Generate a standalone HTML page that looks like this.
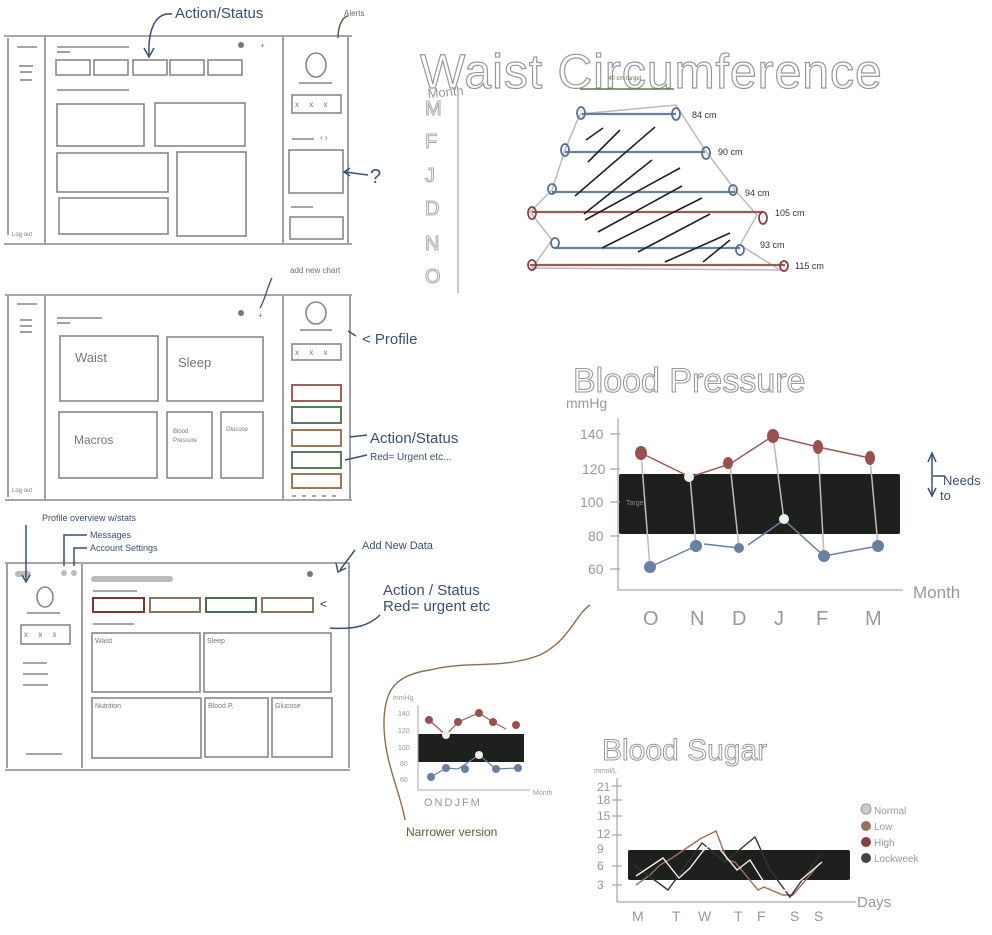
<!DOCTYPE html>
<html><head><meta charset="utf-8"><style>
html,body{margin:0;padding:0;background:#fff}
svg{display:block}
text{font-family:"Liberation Sans",sans-serif}
</style></head><body>
<svg width="992" height="935" viewBox="0 0 992 935" xmlns="http://www.w3.org/2000/svg">
<g fill="none" stroke="#888" stroke-width="1.6">
<line x1="4" y1="36" x2="352" y2="36"/><line x1="4" y1="244" x2="352" y2="244"/>
<line x1="8" y1="38" x2="8" y2="235"/><line x1="45" y1="37" x2="45" y2="243"/>
<line x1="283" y1="37" x2="283" y2="243"/><line x1="348" y1="37" x2="348" y2="243"/>
<line x1="17" y1="47" x2="37" y2="47"/><line x1="19" y1="66" x2="33" y2="66"/><line x1="20" y1="72" x2="32" y2="72"/><line x1="20" y1="80" x2="32" y2="80"/>
<line x1="57" y1="47" x2="129" y2="47"/><line x1="57" y1="52" x2="70" y2="52"/>
<rect x="56" y="60" width="34" height="15"/><rect x="94" y="60" width="34" height="15"/><rect x="133" y="60" width="34" height="15"/><rect x="170" y="60" width="34" height="15"/><rect x="208" y="60" width="34" height="15"/>
<line x1="57" y1="90" x2="129" y2="90"/>
<rect x="57" y="104" width="87" height="42"/><rect x="155" y="103" width="90" height="43"/>
<rect x="57" y="153" width="111" height="39"/><rect x="177" y="152" width="69" height="84"/><rect x="59" y="198" width="109" height="36"/>
<ellipse cx="316" cy="65" rx="10" ry="12"/><line x1="299" y1="83" x2="332" y2="83"/>
<rect x="292" y="95" width="49" height="18"/>
<line x1="292" y1="139" x2="314" y2="139"/>
<rect x="289" y="150" width="54" height="43"/>
<line x1="291" y1="207" x2="313" y2="207"/>
<rect x="290" y="217" width="53" height="22"/>
<line x1="5" y1="295" x2="352" y2="295"/><line x1="5" y1="500" x2="352" y2="500"/>
<line x1="8" y1="296" x2="8" y2="497"/><line x1="45" y1="296" x2="45" y2="499"/>
<line x1="283" y1="296" x2="283" y2="499"/><line x1="350" y1="296" x2="350" y2="499"/>
<line x1="17" y1="304" x2="37" y2="304"/><line x1="20" y1="320" x2="32" y2="320"/><line x1="20" y1="326" x2="32" y2="326"/><line x1="20" y1="332" x2="32" y2="332"/>
<line x1="57" y1="318" x2="102" y2="318"/><line x1="57" y1="323" x2="70" y2="323"/>
<rect x="60" y="336" width="98" height="65"/><rect x="167" y="337" width="96" height="64"/>
<rect x="59" y="412" width="98" height="66"/><rect x="167" y="412" width="45" height="66"/><rect x="221" y="412" width="42" height="66"/>
<ellipse cx="316" cy="313" rx="10" ry="11"/><line x1="300" y1="330" x2="332" y2="330"/>
<rect x="292" y="344" width="49" height="16"/>
<line x1="292" y1="496" x2="340" y2="496" stroke-dasharray="4 6"/>
<line x1="5" y1="563" x2="350" y2="563"/><line x1="5" y1="770" x2="350" y2="770"/>
<line x1="7" y1="564" x2="7" y2="768"/><line x1="82" y1="564" x2="82" y2="768"/><line x1="349" y1="564" x2="349" y2="768"/>
<ellipse cx="45" cy="597" rx="8" ry="10"/><line x1="27" y1="613" x2="60" y2="613"/>
<rect x="21" y="625" width="49" height="19"/>
<line x1="23" y1="663" x2="47" y2="663"/><line x1="23" y1="674" x2="48" y2="674"/><line x1="23" y1="685" x2="48" y2="685"/><line x1="26" y1="754" x2="62" y2="754"/>
<line x1="93" y1="591" x2="137" y2="591"/><line x1="93" y1="624" x2="134" y2="624"/>
<rect x="92" y="633" width="108" height="59"/><rect x="204" y="633" width="127" height="59"/>
<rect x="92" y="698" width="109" height="60"/><rect x="205" y="698" width="63" height="59"/><rect x="272" y="698" width="60" height="59"/>
</g>
<g stroke-width="2" fill="none">
<rect x="292" y="385" width="49" height="16" stroke="#9b6060"/><rect x="292" y="407" width="49" height="16" stroke="#5d7a60"/><rect x="292" y="430" width="49" height="16" stroke="#9a7a5a"/><rect x="292" y="452" width="49" height="16" stroke="#5d7a60"/><rect x="292" y="474" width="49" height="14" stroke="#9a7a5a"/>
<rect x="93" y="598" width="51" height="14" stroke="#7a3838"/><rect x="150" y="598" width="50" height="14" stroke="#8a7560"/><rect x="206" y="598" width="50" height="14" stroke="#4f6a50"/><rect x="262" y="598" width="51" height="14" stroke="#8a7560"/>
</g>
<g fill="#bbb" stroke="none">
<rect x="15" y="571" width="16" height="6" rx="3"/><circle cx="64" cy="573" r="3"/><circle cx="74" cy="573" r="3"/>
<rect x="91" y="576" width="82" height="6" rx="3"/>
<circle cx="241" cy="45" r="3" fill="#777"/><circle cx="241" cy="313" r="3" fill="#777"/><circle cx="310" cy="574" r="3" fill="#777"/>
</g>
<g font-size="8" fill="#777">
<text x="260" y="48">+</text><text x="258" y="318">+</text>
<text x="295" y="107" letter-spacing="4">x x x</text><text x="295" y="355" letter-spacing="4">x x x</text><text x="24" y="637" letter-spacing="4">x x x</text>
<text x="320" y="140">‹ ›</text>
<text x="12" y="236" font-size="6">Log out</text><text x="12" y="492" font-size="6">Log out</text>
<text x="95" y="643" font-size="7">Waist</text><text x="207" y="643" font-size="7">Sleep</text><text x="95" y="708" font-size="7">Nutrition</text><text x="208" y="708" font-size="7">Blood P.</text><text x="275" y="708" font-size="7">Glucose</text>
<text x="75" y="362" font-size="13">Waist</text><text x="178" y="367" font-size="13">Sleep</text><text x="74" y="444" font-size="12">Macros</text><text x="173" y="433" font-size="6">Blood</text><text x="173" y="442" font-size="6">Pressure</text><text x="226" y="431" font-size="6">Glucose</text>
<text x="320" y="608" font-size="12" fill="#334">&lt;</text>
</g>
<g fill="#3d4f6e" font-family="Liberation Sans" font-size="15">
<text x="175" y="18">Action/Status</text>
<text x="362" y="344">&lt; Profile</text>
<text x="370" y="443">Action/Status</text>
<text x="370" y="460" font-size="10">Red= Urgent etc...</text>
<text x="383" y="595">Action / Status</text>
<text x="383" y="611">Red= urgent etc</text>
<text x="362" y="549" font-size="11">Add New Data</text>
<text x="42" y="521" font-size="9">Profile overview w/stats</text>
<text x="90" y="538" font-size="9">Messages</text>
<text x="90" y="551" font-size="9">Account Settings</text>
<text x="370" y="183" font-size="20">?</text>
<text x="943" y="485" font-size="13">Needs</text><text x="940" y="500" font-size="13">to</text>
</g>
<g stroke="#3d4f6e" stroke-width="1.5" fill="none">
<path d="M172 14 C155 12 148 30 149 55"/><path d="M144 48 L149 57 L154 48"/>
<path d="M368 175 L345 172"/><path d="M350 168 L344 172 L350 176"/>
<path d="M356 336 L348 331"/><path d="M367 435 L350 437"/><path d="M367 455 L345 460"/>
<path d="M26 525 L26 580"/><path d="M22 575 L26 582 L30 575"/>
<path d="M87 535 L64 535 L64 566"/><path d="M87 548 L74 548 L74 566"/>
<path d="M355 550 L340 570"/><path d="M336 563 L338 572 L346 568"/>
<path d="M380 615 C370 625 355 630 330 628"/>
<path d="M932 455 L932 495"/><path d="M928 462 L932 453 L936 462"/><path d="M928 488 L932 496 L936 488"/><path d="M933 476 L945 476"/>
</g>
<g fill="#7a6a5a" font-size="8"><text x="344" y="16">Alerts</text><text x="290" y="273">add new chart</text></g>
<path d="M338 38 C338 22 345 16 348 16" stroke="#6a5a40" fill="none" stroke-width="1.5"/>
<path d="M260 308 C265 300 268 285 272 278" stroke="#3d4f6e" fill="none" stroke-width="1.3"/>
<text x="420" y="88" font-size="48" fill="none" stroke="#999" stroke-width="1.2" font-family="Liberation Sans" letter-spacing="1">Waist Circumference</text>
<text x="428" y="98" font-size="13" fill="#999" transform="rotate(-5 428 98)">Month</text>
<g font-size="20" fill="none" stroke="#aaa" stroke-width="1"><text x="425" y="115">M</text><text x="425" y="148">F</text><text x="425" y="182">J</text><text x="425" y="215">D</text><text x="425" y="250">N</text><text x="425" y="283">O</text></g>
<line x1="458" y1="95" x2="458" y2="293" stroke="#aaa" stroke-width="1.3"/>
<line x1="580" y1="89" x2="674" y2="89" stroke="#5d7a50" stroke-width="1.5"/>
<text x="608" y="80" font-size="6" fill="#5d7a50">40 cm target</text>
<path d="M580 114 L565 150 L552 190 L530 212 L552 240 L532 268 L780 270 L740 245 L757 215 L735 190 L705 150 L676 105 Z" fill="none" stroke="#bbb" stroke-width="1.5"/>
<g stroke-width="2.2">
<line x1="582" y1="114" x2="676" y2="114" stroke="#6b7fa0"/><line x1="565" y1="152" x2="705" y2="152" stroke="#6b7fa0"/><line x1="552" y1="192" x2="735" y2="192" stroke="#6b7fa0"/><line x1="532" y1="212" x2="763" y2="212" stroke="#9a5a5a"/><line x1="555" y1="248" x2="740" y2="248" stroke="#6b7fa0"/><line x1="530" y1="265" x2="785" y2="265" stroke="#9a5a5a"/>
</g>
<g fill="none" stroke-width="1.8"><ellipse cx="581" cy="113" rx="4" ry="6" stroke="#5b6f90"/><ellipse cx="676" cy="114" rx="4" ry="6" stroke="#5b6f90"/><ellipse cx="565" cy="150" rx="4" ry="6" stroke="#5b6f90"/><ellipse cx="706" cy="153" rx="4" ry="6" stroke="#5b6f90"/><ellipse cx="552" cy="189" rx="4" ry="5" stroke="#5b6f90"/><ellipse cx="733" cy="190" rx="4" ry="5" stroke="#5b6f90"/><ellipse cx="532" cy="213" rx="4" ry="6" stroke="#8a4040"/><ellipse cx="763" cy="218" rx="4" ry="6" stroke="#8a4040"/><ellipse cx="555" cy="243" rx="4" ry="5" stroke="#5b6f90"/><ellipse cx="740" cy="250" rx="4" ry="5" stroke="#5b6f90"/><ellipse cx="532" cy="265" rx="4" ry="5" stroke="#8a4040"/><ellipse cx="784" cy="266" rx="4" ry="5" stroke="#8a4040"/></g>
<g stroke="#222" stroke-width="1.6" fill="none"><path d="M586 140 L603 128"/><path d="M588 162 L620 130"/><path d="M575 196 L655 127"/><path d="M584 214 L652 160"/><path d="M585 220 L680 168"/><path d="M598 232 L682 186"/><path d="M602 248 L702 198"/><path d="M638 252 L710 214"/><path d="M665 262 L730 233"/><path d="M703 262 L730 240"/></g>
<g font-size="9" fill="#333"><text x="692" y="118">84 cm</text><text x="718" y="155">90 cm</text><text x="745" y="196">94 cm</text><text x="775" y="216">105 cm</text><text x="760" y="248">93 cm</text><text x="795" y="269">115 cm</text></g>
<text x="573" y="392" font-size="34" fill="none" stroke="#999" stroke-width="1.1">Blood Pressure</text>
<text x="566" y="408" font-size="14" fill="#999">mmHg</text>
<rect x="619" y="474" width="281" height="60" fill="#1e201e" rx="2"/>
<g stroke="#aaa" stroke-width="1.3" fill="none"><line x1="618" y1="418" x2="618" y2="590"/><line x1="618" y1="590" x2="903" y2="590"/>
<line x1="610" y1="434" x2="620" y2="434"/><line x1="610" y1="469" x2="620" y2="469"/><line x1="610" y1="502" x2="620" y2="502"/><line x1="610" y1="536" x2="620" y2="536"/><line x1="610" y1="569" x2="620" y2="569"/></g>
<g font-size="14" fill="#999"><text x="580" y="439">140</text><text x="582" y="474">120</text><text x="580" y="507">100</text><text x="588" y="541">80</text><text x="588" y="574">60</text>
<text x="913" y="598" font-size="17">Month</text>
<g font-size="20"><text x="643" y="625">O</text><text x="690" y="625">N</text><text x="732" y="625">D</text><text x="774" y="625">J</text><text x="816" y="625">F</text><text x="865" y="625">M</text></g></g>
<text x="626" y="505" font-size="7" fill="#888">Target</text>
<g stroke="#bbb" stroke-width="1.5" fill="none"><line x1="641" y1="453" x2="650" y2="567"/><line x1="690" y1="477" x2="696" y2="546"/><line x1="730" y1="464" x2="739" y2="548"/><line x1="773" y1="436" x2="784" y2="520"/><line x1="818" y1="447" x2="824" y2="556"/><line x1="870" y1="458" x2="878" y2="546"/></g>
<polyline points="641,453 690,477 730,464 773,436 818,447 870,458" stroke="#9a5a5a" stroke-width="1.5" fill="none"/>
<path d="M650 567 L696 546 M704 544 L739 548 M748 545 L784 520 L824 556 L878 546" stroke="#6b7fa0" stroke-width="1.5" fill="none"/>
<g fill="#9a5050"><ellipse cx="641" cy="453" rx="6" ry="7"/><ellipse cx="728" cy="463" rx="5" ry="6"/><ellipse cx="773" cy="436" rx="6" ry="7"/><ellipse cx="818" cy="447" rx="5" ry="7"/><ellipse cx="870" cy="458" rx="5" ry="7"/></g>
<g fill="#6b7fa0"><circle cx="650" cy="567" r="6"/><circle cx="696" cy="546" r="6"/><circle cx="739" cy="548" r="5"/><circle cx="824" cy="556" r="6"/><circle cx="878" cy="546" r="6"/></g>
<g fill="#eee"><circle cx="689" cy="477" r="5"/><circle cx="784" cy="519" r="5"/></g>
<path d="M590 605 C575 615 570 640 540 655 C500 670 470 660 430 670 C395 675 385 690 384 720 C383 760 400 790 405 820" stroke="#8a7050" stroke-width="1.4" fill="none"/>
<text x="406" y="836" font-size="12" fill="#6a5a30">Narrower version</text>
<rect x="418" y="734" width="106" height="28" fill="#1e201e"/>
<g stroke="#aaa" stroke-width="1" fill="none"><line x1="418" y1="705" x2="418" y2="790"/><line x1="418" y1="790" x2="530" y2="790"/></g>
<g font-size="7" fill="#999"><text x="393" y="700">mmHg</text><text x="398" y="716">140</text><text x="398" y="733">120</text><text x="398" y="750">100</text><text x="400" y="766">80</text><text x="400" y="782">60</text><text x="424" y="806" font-size="11" letter-spacing="2">ONDJFM</text><text x="533" y="795">Month</text></g>
<polyline points="429,720 446,735 458,722 479,713 493,722 506,729" stroke="#9a5a5a" fill="none" stroke-width="1.2"/>
<polyline points="431,777 446,768 458,769 479,755 496,769 518,768" stroke="#6b7fa0" fill="none" stroke-width="1.2"/>
<g fill="#9a5050"><circle cx="429" cy="720" r="4"/><circle cx="458" cy="722" r="4"/><circle cx="479" cy="713" r="4"/><circle cx="493" cy="722" r="4"/><circle cx="516" cy="725" r="4"/></g>
<g fill="#6b7fa0"><circle cx="431" cy="777" r="4"/><circle cx="446" cy="768" r="4"/><circle cx="465" cy="769" r="4"/><circle cx="496" cy="769" r="4"/><circle cx="518" cy="768" r="4"/></g>
<g fill="#eee"><circle cx="446" cy="735" r="4"/><circle cx="479" cy="755" r="4"/></g>
<text x="602" y="760" font-size="30" fill="none" stroke="#999" stroke-width="1">Blood Sugar</text>
<text x="594" y="773" font-size="7" fill="#999">mmol/L</text>
<rect x="628" y="850" width="222" height="30" fill="#1e201e" rx="2"/>
<g stroke="#aaa" stroke-width="1.3" fill="none"><line x1="617" y1="778" x2="617" y2="902"/><line x1="617" y1="902" x2="856" y2="902"/>
<line x1="612" y1="786" x2="622" y2="786"/><line x1="612" y1="800" x2="622" y2="800"/><line x1="612" y1="816" x2="622" y2="816"/><line x1="612" y1="835" x2="622" y2="835"/><line x1="612" y1="866" x2="622" y2="866"/><line x1="612" y1="885" x2="622" y2="885"/></g>
<g font-size="12" fill="#999"><text x="597" y="791">21</text><text x="597" y="804">18</text><text x="597" y="820">15</text><text x="597" y="838">12</text><text x="597" y="853">9</text><text x="597" y="870">6</text><text x="597" y="889">3</text>
<text x="857" y="907" font-size="15">Days</text>
<g font-size="14"><text x="632" y="921">M</text><text x="672" y="921">T</text><text x="698" y="921">W</text><text x="734" y="921">T</text><text x="757" y="921">F</text><text x="790" y="921">S</text><text x="814" y="921">S</text></g>
<g font-size="10"><text x="874" y="814">Normal</text><text x="874" y="830">Low</text><text x="874" y="846">High</text><text x="874" y="862">Lockweek</text></g></g>
<g fill="none" stroke-width="1.4">
<polyline points="636,885 650,875 660,865 672,858 700,839 716,831 727,860 735,862 758,890 764,887 783,895 793,895 820,863" stroke="#9a7060"/>
<polyline points="634,865 668,890 702,843 725,862 755,837 770,870 790,897 820,855" stroke="#333"/>
<polyline points="636,876 663,858 679,878 690,868 703,851 713,841 737,870 750,860 767,887 788,891 822,862" stroke="#eee"/>
</g>
<g><circle cx="866" cy="809" r="5" fill="#ccc" stroke="#999"/><circle cx="866" cy="826" r="5" fill="#9a7060"/><circle cx="866" cy="842" r="5" fill="#8a4040"/><circle cx="866" cy="858" r="5" fill="#444"/></g>
</svg>
</body></html>
